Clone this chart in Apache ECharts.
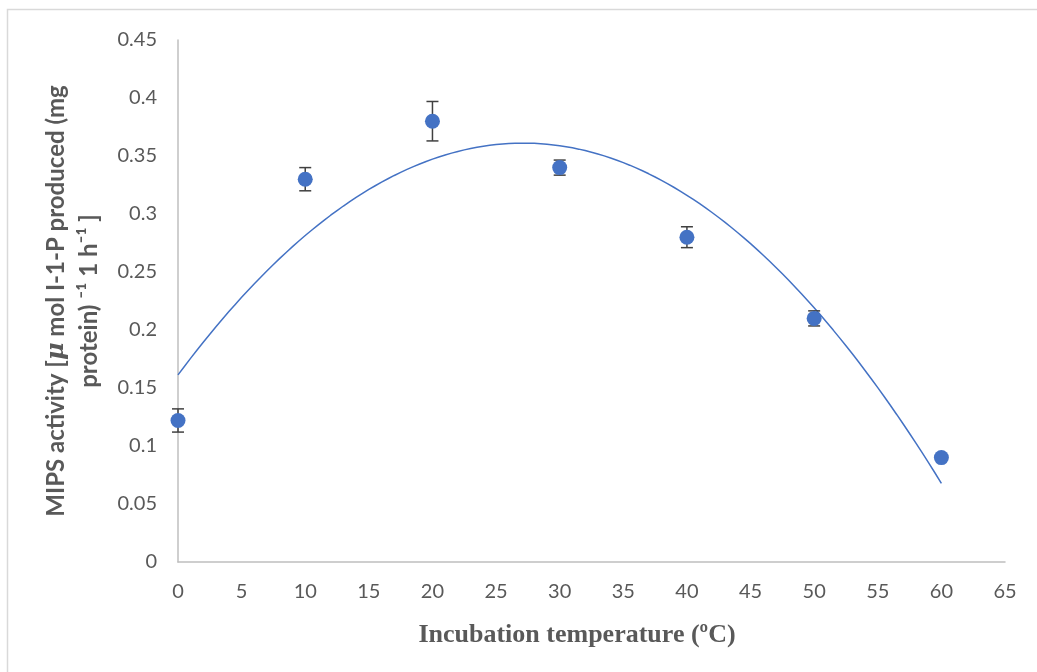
<!DOCTYPE html>
<html>
<head>
<meta charset="utf-8">
<script src="https://cdn.jsdelivr.net/npm/echarts@6/dist/echarts.min.js"></script>
<style>
html,body{margin:0;padding:0;background:#fff;}
#chart{width:1037px;height:672px;}
</style>
</head>
<body>
<div id="chart"></div>
<script>
// Data
var temperatures = [0, 10, 20, 30, 40, 50, 60];
var activity = [0.122, 0.330, 0.380, 0.340, 0.280, 0.210, 0.090];
var errors = [0.010, 0.010, 0.017, 0.0065, 0.009, 0.0065, 0.000];
var xTicks = [0, 5, 10, 15, 20, 25, 30, 35, 40, 45, 50, 55, 60, 65];
var yTicks = [0, 0.05, 0.1, 0.15, 0.2, 0.25, 0.3, 0.35, 0.4, 0.45];

// Polynomial (order 2) least-squares trendline, as in the original spreadsheet chart
function polyFit2(xs, ys) {
  var n = xs.length, s = [0,0,0,0,0], t = [0,0,0];
  for (var i = 0; i < n; i++) {
    var p = 1;
    for (var k = 0; k <= 4; k++) { s[k] += p; if (k <= 2) t[k] += p * ys[i]; p *= xs[i]; }
  }
  var M = [[s[0], s[1], s[2], t[0]], [s[1], s[2], s[3], t[1]], [s[2], s[3], s[4], t[2]]];
  for (var c = 0; c < 3; c++) {
    for (var r = c + 1; r < 3; r++) {
      var f = M[r][c] / M[c][c];
      for (var j = c; j < 4; j++) M[r][j] -= f * M[c][j];
    }
  }
  var coef = [0, 0, 0];
  for (var r2 = 2; r2 >= 0; r2--) {
    var v = M[r2][3];
    for (var j2 = r2 + 1; j2 < 3; j2++) v -= M[r2][j2] * coef[j2];
    coef[r2] = v / M[r2][r2];
  }
  return coef;
}
var coef = polyFit2(temperatures, activity);
var trend = [];
for (var x = temperatures[0]; x <= temperatures[temperatures.length - 1] + 1e-9; x += 0.5) {
  trend.push([x, coef[0] + coef[1] * x + coef[2] * x * x]);
}

var points = temperatures.map(function (t, i) { return [t, activity[i]]; });
var errData = temperatures.map(function (t, i) { return [t, activity[i] - errors[i], activity[i] + errors[i]]; });

var labelFont = 'Lato, "Open Sans", sans-serif';
var chart = echarts.init(document.getElementById('chart'));
chart.setOption({
  animation: false,
  backgroundColor: '#ffffff',
  graphic: [{
    type: 'rect',
    shape: { x: 7.5, y: 9.5, width: 1040, height: 700 },
    style: { fill: 'none', stroke: '#d9d9d9', lineWidth: 1.5 },
    silent: true, z: -1
  }, {
    type: 'text',
    x: 577, y: 635,
    style: {
      text: 'Incubation temperature (ºC)',
      textAlign: 'center', textVerticalAlign: 'middle',
      fill: '#595959',
      font: 'bold 26px "Liberation Serif", "Times New Roman", serif'
    },
    silent: true
  }],
  grid: { left: 178, right: 32, top: 40, bottom: 110 },
  xAxis: {
    type: 'value',
    min: xTicks[0], max: xTicks[xTicks.length - 1], interval: 5,
    axisLine: { show: true, lineStyle: { color: '#bfbfbf', width: 1.5 } },
    axisTick: { show: false },
    splitLine: { show: false },
    axisLabel: { color: '#595959', fontSize: 20, fontFamily: labelFont, margin: 20 }
  },
  yAxis: {
    type: 'value',
    min: yTicks[0], max: yTicks[yTicks.length - 1], interval: 0.05,
    axisLine: { show: true, lineStyle: { color: '#bfbfbf', width: 1.5 } },
    axisTick: { show: false },
    splitLine: { show: false },
    axisLabel: { color: '#595959', fontSize: 20, fontFamily: labelFont, margin: 21 },
    name: 'MIPS activity [{i|μ} mol I-1-P produced (mg\nprotein) ⁻¹ 1 h⁻¹ ]',
    nameLocation: 'middle',
    nameGap: 72,
    nameRotate: 90,
    nameTextStyle: {
      color: '#595959', fontSize: 24, fontWeight: 'bold', fontFamily: labelFont, lineHeight: 33, align: 'center',
      rich: {
        i: { color: '#595959', fontSize: 24, fontWeight: 'bold', fontStyle: 'italic', fontFamily: '"DejaVu Serif", serif', lineHeight: 33 }
      }
    }
  },
  series: [{
    type: 'line',
    data: trend,
    showSymbol: false,
    smooth: false,
    lineStyle: { color: '#4472C4', width: 1.5 },
    z: 2
  }, {
    type: 'custom',
    data: errData,
    z: 3,
    renderItem: function (params, api) {
      var xv = api.value(0);
      var lo = api.coord([xv, api.value(1)]);
      var hi = api.coord([xv, api.value(2)]);
      var cap = 6;
      var st = { stroke: '#404040', lineWidth: 1.5, fill: 'none' };
      return {
        type: 'group',
        children: [
          { type: 'line', shape: { x1: hi[0], y1: hi[1], x2: lo[0], y2: lo[1] }, style: st },
          { type: 'line', shape: { x1: hi[0] - cap, y1: hi[1], x2: hi[0] + cap, y2: hi[1] }, style: st },
          { type: 'line', shape: { x1: lo[0] - cap, y1: lo[1], x2: lo[0] + cap, y2: lo[1] }, style: st }
        ]
      };
    }
  }, {
    type: 'scatter',
    data: points,
    symbol: 'circle',
    symbolSize: 15,
    itemStyle: { color: '#4472C4', opacity: 1 },
    z: 4
  }]
});
</script>
</body>
</html>
